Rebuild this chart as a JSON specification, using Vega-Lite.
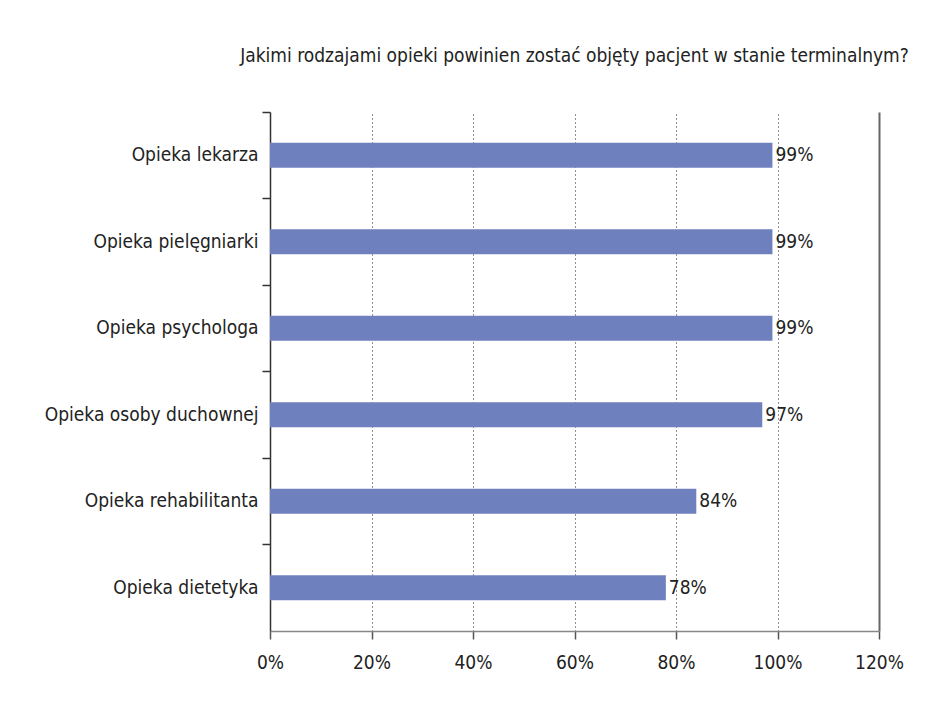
{
  "$schema": "https://vega.github.io/schema/vega-lite/v6.json",
  "autosize": "none",
  "width": 609,
  "height": 519,
  "padding": {"left": 270, "top": 112, "right": 71, "bottom": 70},
  "background": "white",
  "config": {
    "font": "DejaVu Sans Condensed, Roboto, sans-serif",
    "view": {"stroke": null}
  },
  "title": {
    "text": "Jakimi rodzajami opieki powinien zostać objęty pacjent w stanie terminalnym?",
    "fontSize": 19,
    "fontWeight": "normal",
    "color": "#222222",
    "font": "DejaVu Sans Condensed, Roboto, sans-serif",
    "anchor": "middle",
    "offset": 45
  },
  "data": {
    "values": [
      {"kategoria": "Opieka lekarza", "wartosc": 0.99},
      {"kategoria": "Opieka pielęgniarki", "wartosc": 0.99},
      {"kategoria": "Opieka psychologa", "wartosc": 0.99},
      {"kategoria": "Opieka osoby duchownej", "wartosc": 0.97},
      {"kategoria": "Opieka rehabilitanta", "wartosc": 0.84},
      {"kategoria": "Opieka dietetyka", "wartosc": 0.78}
    ]
  },
  "encoding": {
    "y": {
      "field": "kategoria",
      "type": "nominal",
      "sort": null,
      "scale": {"paddingInner": 0, "paddingOuter": 0},
      "axis": {
        "title": null,
        "bandPosition": 0,
        "domainColor": "#333333",
        "domainWidth": 1.5,
        "tickColor": "#333333",
        "tickWidth": 1.5,
        "tickSize": 8,
        "labelFontSize": 19,
        "labelColor": "#222222",
        "labelPadding": 4,
        "labelLimit": 300,
        "labelFont": "DejaVu Sans Condensed, Roboto, sans-serif"
      }
    },
    "x": {
      "field": "wartosc",
      "type": "quantitative",
      "scale": {"domain": [0, 1.2], "nice": false},
      "axis": {
        "title": null,
        "format": ".0%",
        "values": [0, 0.2, 0.4, 0.6, 0.8, 1.0, 1.2],
        "domainColor": "#888888",
        "domainWidth": 1.5,
        "tickColor": "#555555",
        "tickWidth": 1.5,
        "tickSize": 8,
        "labelFontSize": 19,
        "labelColor": "#222222",
        "labelPadding": 14,
        "labelFont": "DejaVu Sans Condensed, Roboto, sans-serif",
        "labelFlush": false,
        "grid": true,
        "gridColor": {"condition": {"test": "datum.value >= 1.19", "value": "#666666"}, "value": "#222222"},
        "gridDash": {"condition": {"test": "datum.value >= 1.19", "value": []}, "value": [1, 3]},
        "gridWidth": {"condition": {"test": "datum.value >= 1.19", "value": 2}, "value": 1},
        "gridOpacity": {"condition": {"test": "datum.value < 0.01", "value": 0}, "value": 1}
      }
    }
  },
  "layer": [
    {
      "mark": {"type": "bar", "color": "#6f80bf", "size": 25}
    },
    {
      "mark": {
        "type": "text",
        "align": "left",
        "baseline": "middle",
        "dx": 3,
        "fontSize": 19,
        "color": "#222222",
        "font": "DejaVu Sans Condensed, Roboto, sans-serif"
      },
      "encoding": {
        "text": {"field": "wartosc", "type": "quantitative", "format": ".0%"}
      }
    }
  ]
}
